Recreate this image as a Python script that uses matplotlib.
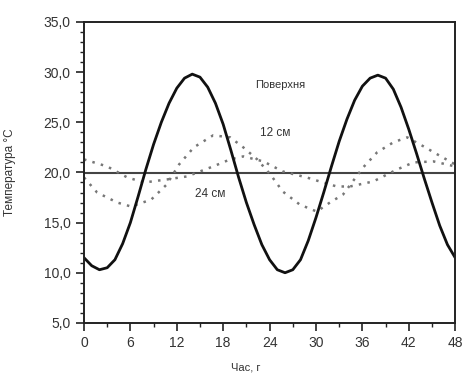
import matplotlib
matplotlib.use('Agg')
import matplotlib.pyplot as plt
from matplotlib.ticker import MultipleLocator

plt.rcParams['font.family'] = ['Liberation Sans', 'DejaVu Sans']

# surface temperature (hourly)
hours_surf = list(range(0, 49))
t_surf = [11.5, 10.7, 10.3, 10.5, 11.3, 12.9, 15.0, 17.6, 20.3, 22.8, 25.0, 26.9,
          28.4, 29.4, 29.8, 29.5, 28.5, 26.9, 24.8, 22.2, 19.5, 17.0, 14.8, 12.8,
          11.3, 10.3, 10.0, 10.3, 11.3, 13.2, 15.5, 18.0, 20.6, 23.1, 25.3, 27.2,
          28.6, 29.4, 29.7, 29.4, 28.3, 26.5, 24.3, 21.9, 19.4, 17.0, 14.7, 12.8, 11.5]

# 12 cm depth
hours_12 = [0, 1.7, 4.3, 6.1, 8.7, 10.7, 12.3, 14.2, 16.7, 18.9, 20.6, 22.4, 24.1,
            25.7, 27.9, 30.1, 31.8, 33.5, 36.1, 37.9, 40.0, 41.8, 43.9, 45.7, 48]
t_12 = [19.5, 18.0, 17.0, 16.6, 17.3, 18.8, 20.8, 22.5, 23.7, 23.5, 22.5, 21.3, 19.8,
        18.1, 16.8, 16.1, 17.0, 17.8, 20.5, 22.0, 23.0, 23.5, 22.6, 21.8, 20.8]

# 24 cm depth
hours_24 = [0, 3, 5.6, 7.8, 10.7, 13.3, 16.7, 18.9, 20.6, 23.2, 25.7, 28.8, 30.9,
            32.7, 34.4, 37.4, 40.5, 42.6, 45.2, 48]
t_24 = [21.3, 20.6, 19.5, 19.0, 19.3, 19.6, 20.6, 21.3, 21.6, 21.1, 20.1, 19.5, 19.0,
        18.6, 18.6, 19.1, 20.3, 21.0, 21.1, 20.6]

mean_temp = 19.9
y_ticks = [5, 10, 15, 20, 25, 30, 35]
y_labels = ['5,0', '10,0', '15,0', '20,0', '25,0', '30,0', '35,0']
x_ticks = [0, 6, 12, 18, 24, 30, 36, 42, 48]

fig = plt.figure(figsize=(4.64, 3.79), dpi=100)
ax = fig.add_axes([0.181, 0.148, 0.800, 0.794])

ax.axhline(mean_temp, color='#444444', lw=1.5)
ax.plot(hours_12, t_12, color='#777777', lw=1.8, linestyle=(0, (1, 2.5)))
ax.plot(hours_24, t_24, color='#777777', lw=1.8, linestyle=(0, (1, 2.5)))
ax.plot(hours_surf, t_surf, color='#111111', lw=2.0, solid_joinstyle='round')

ax.set_xlim(0, 48)
ax.set_ylim(5, 35)
ax.set_xticks(x_ticks)
ax.set_yticks(y_ticks)
ax.set_yticklabels(y_labels)
ax.xaxis.set_minor_locator(MultipleLocator(3))
ax.yaxis.set_minor_locator(MultipleLocator(1))
ax.tick_params(which='major', direction='out', length=6, width=1.2,
               labelsize=10, colors='#222222', labelcolor='#333333')
ax.tick_params(which='minor', direction='out', length=3, width=1.0, colors='#222222')
for s in ax.spines.values():
    s.set_linewidth(1.4)
    s.set_color('#222222')

ax.text(25.4, 28.7, 'Поверхня', fontsize=8, color='#333333', ha='center', va='center')
ax.text(24.7, 23.9, '12 см', fontsize=8.5, color='#333333', ha='center', va='center')
ax.text(16.3, 17.9, '24 см', fontsize=8.5, color='#333333', ha='center', va='center')

fig.text(0.530, 0.022, 'Час, г', fontsize=8, color='#333333', ha='center')
fig.text(0.022, 0.545, 'Температура °С', fontsize=8.5, color='#333333',
         rotation=90, ha='center', va='center')

fig.savefig('out.png', dpi=100)
